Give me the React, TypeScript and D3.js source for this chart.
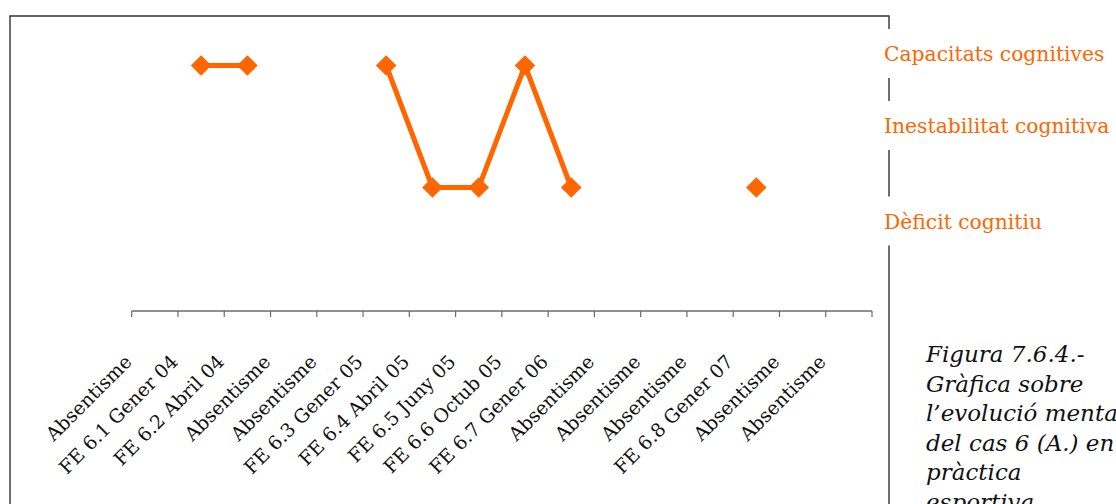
import React from "react";
import * as d3 from "d3";

const categories: string[] = [
  "Absentisme",
  "FE 6.1 Gener 04",
  "FE 6.2 Abril 04",
  "Absentisme",
  "Absentisme",
  "FE 6.3 Gener 05",
  "FE 6.4 Abril 05",
  "FE 6.5 Juny 05",
  "FE 6.6 Octub 05",
  "FE 6.7 Gener 06",
  "Absentisme",
  "Absentisme",
  "Absentisme",
  "FE 6.8 Gener 07",
  "Absentisme",
  "Absentisme",
];

// 3 = Capacitats cognitives, 2 = Inestabilitat cognitiva, 1 = Dèficit cognitiu, null = absentisme
const values: (number | null)[] = [
  null, 3, 3, null, null, 3, 1, 1, 3, 1, null, null, null, 1, null, null,
];

const levelLabels: string[] = [
  "Capacitats cognitives",
  "Inestabilitat cognitiva",
  "Dèficit cognitiu",
];

const captionLines: string[] = [
  "Figura 7.6.4.-",
  "Gràfica sobre",
  "l\u2019evolució mental",
  "del cas 6 (A.) en",
  "pràctica",
  "esportiva",
];

const W = 1116;
const H = 504;
const ORANGE = "#FF6600";
const SERIF = "'DejaVu Serif', Georgia, serif";

export default function App() {
  const x = d3
    .scaleBand<number>()
    .domain(categories.map((_, i) => i))
    .range([131.7, 872])
    .padding(0);
  const y = d3.scaleLinear().domain([1, 3]).range([187.5, 65.5]);
  const axisY = 311;

  const pts = values.map((v, i) => ({ i, v }));
  const line = d3
    .line<{ i: number; v: number | null }>()
    .defined((d) => d.v !== null)
    .x((d) => (x(d.i) as number) + x.bandwidth() / 2)
    .y((d) => y(d.v as number));

  const diamond = d3.symbol().type(d3.symbolSquare).size(212)();

  const tickPositions = d3.range(categories.length + 1).map(
    (k) => 131.7 + k * x.bandwidth()
  );

  // label box centers (text boxes placed beside the plot)
  const labelCenters = [53.5, 125.5, 221];

  return (
    <svg
      width={W}
      height={H}
      style={{ position: "absolute", left: 0, top: 0, display: "block", background: "#fff" }}
    >
      {/* frame */}
      <path
        d={`M10,${H} L10,16 L889,16 L889,${H}`}
        fill="none"
        stroke="#333"
        strokeWidth={1.4}
      />

      {/* x axis */}
      <line x1={131.7} x2={872} y1={axisY} y2={axisY} stroke="#6b6b6b" strokeWidth={1.4} />
      {tickPositions.map((tx, k) => (
        <line key={k} x1={tx} x2={tx} y1={axisY} y2={axisY + 6} stroke="#6b6b6b" strokeWidth={1.2} />
      ))}
      {categories.map((c, i) => {
        const cx = (x(i) as number) + x.bandwidth() / 2;
        const ax = cx - 22;
        const ay = 363;
        return (
          <text
            key={i}
            x={ax}
            y={ay}
            transform={`rotate(-45 ${ax} ${ay})`}
            textAnchor="end"
            fontFamily={SERIF}
            fontSize={19}
            fill="#111"
          >
            {c}
          </text>
        );
      })}

      {/* series */}
      <path d={line(pts) || ""} fill="none" stroke={ORANGE} strokeWidth={5} strokeLinejoin="round" />
      {pts
        .filter((d) => d.v !== null)
        .map((d) => (
          <path
            key={d.i}
            d={diamond || ""}
            transform={`translate(${(x(d.i) as number) + x.bandwidth() / 2},${y(d.v as number)}) rotate(45)`}
            fill={ORANGE}
          />
        ))}

      {/* level labels */}
      {levelLabels.map((t, k) => (
        <g key={k}>
          <rect x={876} y={labelCenters[k] - 24.5} width={240} height={49} fill="#fff" />
          <text
            x={884}
            y={labelCenters[k] + 7.5}
            fontFamily={SERIF}
            fontSize={20.3}
            fill={ORANGE}
          >
            {t}
          </text>
        </g>
      ))}

      {/* caption */}
      {captionLines.map((t, k) => (
        <text
          key={k}
          x={926}
          y={362 + k * 29.5}
          fontFamily={SERIF}
          fontStyle="italic"
          fontSize={23}
          fill="#111"
        >
          {t}
        </text>
      ))}
    </svg>
  );
}
